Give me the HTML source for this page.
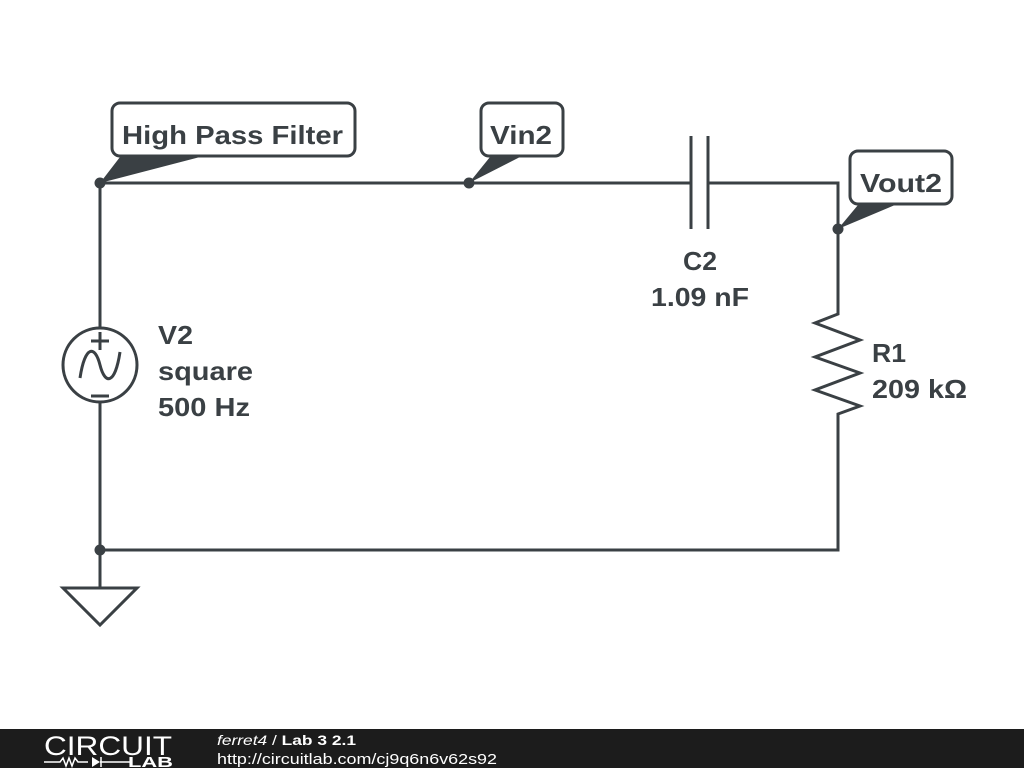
<!DOCTYPE html>
<html><head><meta charset="utf-8"><style>
html,body{margin:0;padding:0;background:#fff;width:1024px;height:768px;overflow:hidden}
svg{display:block}
</style></head><body>
<svg width="1024" height="768" viewBox="0 0 1024 768" xmlns="http://www.w3.org/2000/svg" font-family="Liberation Sans, sans-serif">
<g stroke="#3a4044" stroke-width="3" fill="none" stroke-linecap="butt">
  <polyline points="100,328 100,183 691,183"/>
  <polyline points="708,183 838,183 838,314 815,323 860,340 815,357 860,373 815,390 860,406 838,414 838,550 100,550 100,402"/>
  <line x1="100" y1="550" x2="100" y2="588"/>
  <polygon points="63,588 137,588 100,625"/>
  <line x1="691" y1="136" x2="691" y2="229"/>
  <line x1="708" y1="136" x2="708" y2="229"/>
  <circle cx="100" cy="365" r="37"/>
  <line x1="100" y1="332" x2="100" y2="350"/>
  <line x1="91" y1="341" x2="109" y2="341"/>
  <line x1="91" y1="396" x2="109" y2="396"/>
  <path d="M80,378 C85,345 95,345 100,365 C105,385 115,385 120,352"/>
  <rect x="112" y="103" width="243" height="53" rx="8" fill="#fff"/>
  <rect x="481" y="103" width="82" height="53" rx="8" fill="#fff"/>
  <rect x="850" y="151" width="102" height="53" rx="8" fill="#fff"/>
</g>
<g fill="#3a4044">
  <circle cx="100" cy="183" r="5.5"/>
  <circle cx="469" cy="183" r="5.5"/>
  <circle cx="838" cy="229" r="5.5"/>
  <circle cx="100" cy="550" r="5.5"/>
  <polygon points="100,183 120,157 200,157"/>
  <polygon points="469,183 490,157 520,157"/>
  <polygon points="838,229 858,205 895,205"/>
</g>
<g fill="#3a4044" font-weight="bold" font-size="26">
  <text x="122" y="144" textLength="221" lengthAdjust="spacingAndGlyphs">High Pass Filter</text>
  <text x="490" y="144" textLength="62" lengthAdjust="spacingAndGlyphs">Vin2</text>
  <text x="860" y="192" textLength="82" lengthAdjust="spacingAndGlyphs">Vout2</text>
  <text x="683" y="270" textLength="34" lengthAdjust="spacingAndGlyphs">C2</text>
  <text x="651" y="306" textLength="98" lengthAdjust="spacingAndGlyphs">1.09 nF</text>
  <text x="158" y="344" textLength="35" lengthAdjust="spacingAndGlyphs">V2</text>
  <text x="158" y="380" textLength="95" lengthAdjust="spacingAndGlyphs">square</text>
  <text x="158" y="416" textLength="92" lengthAdjust="spacingAndGlyphs">500 Hz</text>
  <text x="872" y="362" textLength="34" lengthAdjust="spacingAndGlyphs">R1</text>
  <text x="872" y="398" textLength="95" lengthAdjust="spacingAndGlyphs">209 kΩ</text>
</g>
<rect x="0" y="729" width="1024" height="39" fill="#1c1c1c"/>
<text x="44" y="755" fill="#fff" font-size="27" textLength="128" lengthAdjust="spacingAndGlyphs">CIRCUIT</text>
<g stroke="#fff" stroke-width="1.5" fill="none">
  <polyline points="44,762 60,762 63,758 66,766 69,758 72,766 75,758 78,762 88,762"/>
  <line x1="100" y1="762" x2="130" y2="762"/>
  <line x1="101" y1="757" x2="101" y2="767"/>
</g>
<polygon points="92,757 92,767 100,762" fill="#fff"/>
<text x="128" y="767" fill="#fff" font-size="15" font-weight="bold" textLength="45" lengthAdjust="spacingAndGlyphs">LAB</text>
<text x="217" y="745" fill="#fff" font-size="14" textLength="139" lengthAdjust="spacingAndGlyphs"><tspan font-style="italic">ferret4</tspan> / <tspan font-weight="bold">Lab 3 2.1</tspan></text>
<text x="217" y="764" fill="#fff" font-size="15" textLength="280" lengthAdjust="spacingAndGlyphs">http://circuitlab.com/cj9q6n6v62s92</text>
</svg>
</body></html>
